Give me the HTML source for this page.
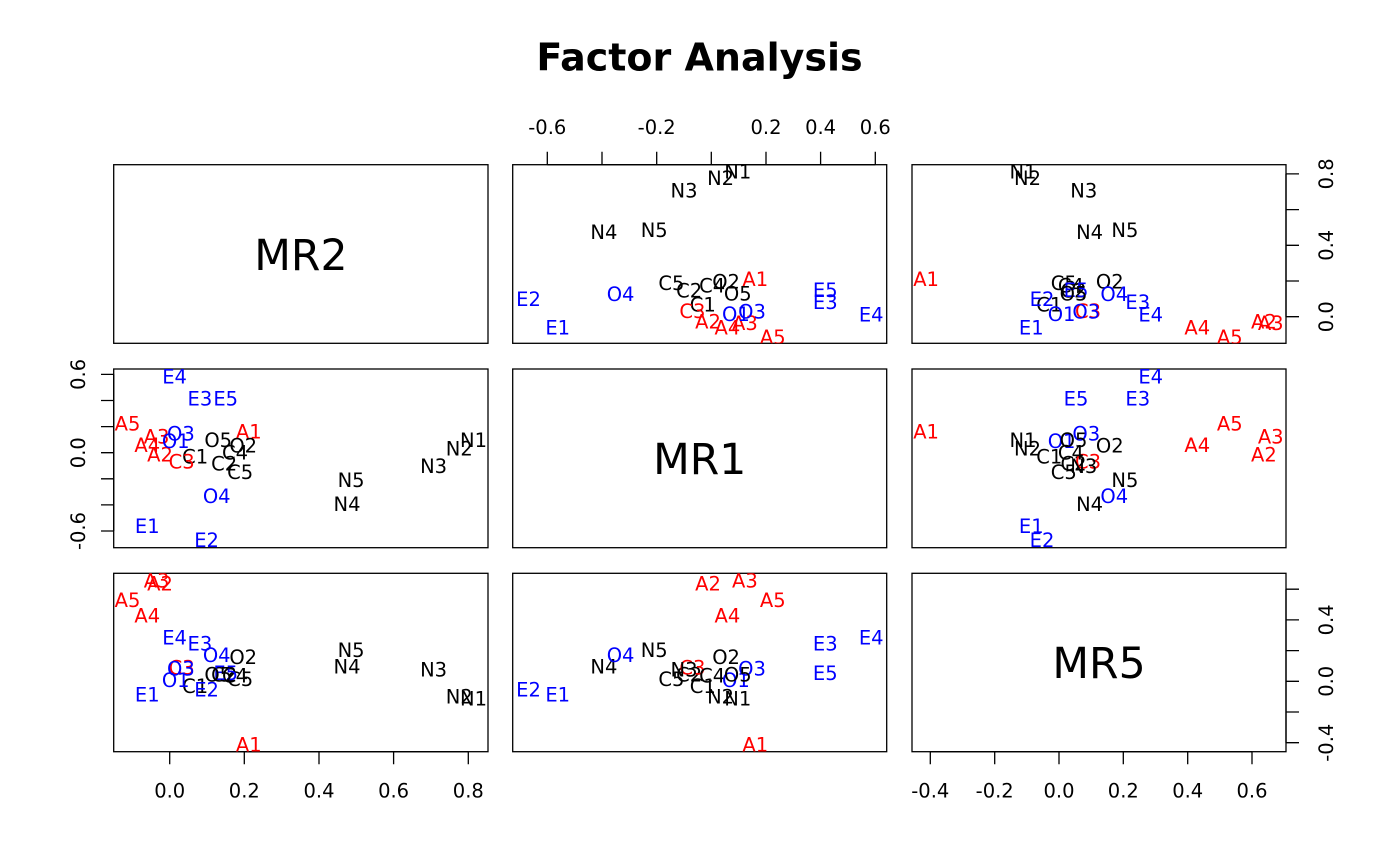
<!DOCTYPE html>
<html><head><meta charset="utf-8"><style>
html,body{margin:0;padding:0;background:#fff}
svg{display:block}
text{font-family:"DejaVu Sans","Liberation Sans",sans-serif}
.p text{font-size:19.5px;text-anchor:middle}
.r{fill:#ff0000}.b{fill:#0000ff}
.ax text{font-size:19.5px;text-anchor:middle}
</style></head><body>
<svg width="1400" height="866" viewBox="0 0 1400 866" xmlns="http://www.w3.org/2000/svg">
<defs>
<clipPath id="c12"><rect x="512.7" y="164.7" width="374" height="178.6"/></clipPath>
<clipPath id="c13"><rect x="912" y="164.7" width="374" height="178.6"/></clipPath>
<clipPath id="c21"><rect x="113.7" y="369" width="374.3" height="178.7"/></clipPath>
<clipPath id="c23"><rect x="912" y="369" width="374" height="178.7"/></clipPath>
<clipPath id="c31"><rect x="113.7" y="573.3" width="374.3" height="178.4"/></clipPath>
<clipPath id="c32"><rect x="512.7" y="573.3" width="374" height="178.4"/></clipPath>
</defs>
<rect width="1400" height="866" fill="#fff"/>
<text x="699.5" y="70.7" font-size="38" font-weight="bold" text-anchor="middle">Factor Analysis</text>

<g fill="none" stroke="#000" stroke-width="1.3">
<rect x="113.7" y="164.7" width="374.3" height="178.6"/>
<rect x="512.7" y="164.7" width="374" height="178.6"/>
<rect x="912" y="164.7" width="374" height="178.6"/>
<rect x="113.7" y="369" width="374.3" height="178.7"/>
<rect x="512.7" y="369" width="374" height="178.7"/>
<rect x="912" y="369" width="374" height="178.7"/>
<rect x="113.7" y="573.3" width="374.3" height="178.4"/>
<rect x="512.7" y="573.3" width="374" height="178.4"/>
<rect x="912" y="573.3" width="374" height="178.4"/>
<!-- top axis col2 -->
<path d="M547.3 164.7V151.7M602 164.7V151.7M656.7 164.7V151.7M711.3 164.7V151.7M766 164.7V151.7M820.6 164.7V151.7M875.3 164.7V151.7M547.3 164.7H875.3"/>
<!-- bottom axis col1 -->
<path d="M169.7 751.7V764.3M244.3 751.7V764.3M319 751.7V764.3M393.6 751.7V764.3M468.3 751.7V764.3M169.7 751.7H468.3"/>
<!-- bottom axis col3 -->
<path d="M930.3 751.7V764.3M994.7 751.7V764.3M1059 751.7V764.3M1123.3 751.7V764.3M1187.7 751.7V764.3M1252 751.7V764.3M930.3 751.7H1252"/>
<!-- right axis row1 -->
<path d="M1286 316.7H1299M1286 281H1299M1286 245.3H1299M1286 209.6H1299M1286 173.9H1299M1286 173.9V316.7"/>
<!-- left axis row2 -->
<path d="M113.7 374.4H101M113.7 400.5H101M113.7 426.6H101M113.7 452.7H101M113.7 478.8H101M113.7 504.9H101M113.7 531H101M113.7 374.4V531"/>
<!-- right axis row3 -->
<path d="M1286 589.2H1299M1286 619.9H1299M1286 650.6H1299M1286 681.3H1299M1286 712H1299M1286 742.7H1299M1286 589.2V742.7"/>
</g>

<g class="ax">
<text x="547.3" y="134">-0.6</text>
<text x="656.7" y="134">-0.2</text>
<text x="766" y="134">0.2</text>
<text x="820.6" y="134">0.4</text>
<text x="875.3" y="134">0.6</text>
<text x="169.7" y="797.7">0.0</text>
<text x="244.3" y="797.7">0.2</text>
<text x="319" y="797.7">0.4</text>
<text x="393.6" y="797.7">0.6</text>
<text x="468.3" y="797.7">0.8</text>
<text x="930.3" y="797.7">-0.4</text>
<text x="994.7" y="797.7">-0.2</text>
<text x="1059" y="797.7">0.0</text>
<text x="1123.3" y="797.7">0.2</text>
<text x="1187.7" y="797.7">0.4</text>
<text x="1252" y="797.7">0.6</text>
<text transform="translate(1333,316.7) rotate(-90)">0.0</text>
<text transform="translate(1333,245.3) rotate(-90)">0.4</text>
<text transform="translate(1333,173.9) rotate(-90)">0.8</text>
<text transform="translate(85,374.4) rotate(-90)">0.6</text>
<text transform="translate(85,452.7) rotate(-90)">0.0</text>
<text transform="translate(85,531) rotate(-90)">-0.6</text>
<text transform="translate(1333,619.9) rotate(-90)">0.4</text>
<text transform="translate(1333,681.3) rotate(-90)">0.0</text>
<text transform="translate(1333,742.7) rotate(-90)">-0.4</text>
</g>

<g font-size="42.5" text-anchor="middle">
<text x="300.9" y="270">MR2</text>
<text x="699.7" y="473.8">MR1</text>
<text x="1099" y="678">MR5</text>
</g>

<!-- panel 1,2 -->
<g class="p" clip-path="url(#c12)">
<text class="r" x="755.3" y="285.9">A1</text>
<text class="r" x="708.0" y="328.3">A2</text>
<text class="r" x="744.9" y="329.9">A3</text>
<text class="r" x="727.4" y="334.4">A4</text>
<text class="r" x="772.8" y="343.9">A5</text>
<text x="702.8" y="311.6">C1</text>
<text x="689.2" y="297.6">C2</text>
<text class="r" x="692.4" y="318.0">C3</text>
<text x="712.1" y="292.5">C4</text>
<text x="671.4" y="290.0">C5</text>
<text class="b" x="557.7" y="334.4">E1</text>
<text class="b" x="528.5" y="306.0">E2</text>
<text class="b" x="825.3" y="309.2">E3</text>
<text class="b" x="871.2" y="321.4">E4</text>
<text class="b" x="825.3" y="296.9">E5</text>
<text x="737.8" y="178.4">N1</text>
<text x="720.6" y="185.2">N2</text>
<text x="684.0" y="197.5">N3</text>
<text x="603.9" y="238.9">N4</text>
<text x="654.2" y="236.9">N5</text>
<text class="b" x="735.9" y="320.8">O1</text>
<text x="726.1" y="288.5">O2</text>
<text class="b" x="752.0" y="318.3">O3</text>
<text class="b" x="620.6" y="301.2">O4</text>
<text x="737.8" y="300.5">O5</text>
</g>

<!-- panel 1,3 -->
<g class="p" clip-path="url(#c13)">
<text class="r" x="926.1" y="285.9">A1</text>
<text class="r" x="1263.9" y="328.3">A2</text>
<text class="r" x="1270.7" y="329.9">A3</text>
<text class="r" x="1197.3" y="334.4">A4</text>
<text class="r" x="1229.8" y="343.9">A5</text>
<text x="1049.3" y="311.6">C1</text>
<text x="1073.5" y="297.6">C2</text>
<text class="r" x="1088.0" y="318.0">C3</text>
<text x="1070.9" y="292.5">C4</text>
<text x="1063.8" y="290.0">C5</text>
<text class="b" x="1031.3" y="334.4">E1</text>
<text class="b" x="1042.0" y="306.0">E2</text>
<text class="b" x="1137.8" y="309.2">E3</text>
<text class="b" x="1150.7" y="321.4">E4</text>
<text class="b" x="1076.0" y="296.9">E5</text>
<text x="1023.0" y="178.4">N1</text>
<text x="1027.5" y="185.2">N2</text>
<text x="1083.8" y="197.5">N3</text>
<text x="1089.6" y="238.9">N4</text>
<text x="1124.9" y="236.9">N5</text>
<text class="b" x="1061.6" y="320.8">O1</text>
<text x="1109.8" y="288.5">O2</text>
<text class="b" x="1086.3" y="318.3">O3</text>
<text class="b" x="1114.3" y="301.2">O4</text>
<text x="1073.5" y="300.5">O5</text>
</g>

<!-- panel 2,1 -->
<g class="p" clip-path="url(#c21)">
<text class="r" x="248.8" y="438.7">A1</text>
<text class="r" x="160.0" y="461.3">A2</text>
<text class="r" x="156.6" y="443.6">A3</text>
<text class="r" x="147.3" y="452.0">A4</text>
<text class="r" x="127.5" y="430.3">A5</text>
<text x="195.1" y="463.7">C1</text>
<text x="224.2" y="470.3">C2</text>
<text class="r" x="181.6" y="468.7">C3</text>
<text x="235.0" y="459.3">C4</text>
<text x="240.2" y="478.8">C5</text>
<text class="b" x="147.3" y="533.0">E1</text>
<text class="b" x="206.6" y="547.0">E2</text>
<text class="b" x="199.9" y="405.3">E3</text>
<text class="b" x="174.6" y="383.4">E4</text>
<text class="b" x="225.7" y="405.3">E5</text>
<text x="473.5" y="447.0">N1</text>
<text x="459.3" y="455.3">N2</text>
<text x="433.6" y="472.8">N3</text>
<text x="347.0" y="511.0">N4</text>
<text x="351.1" y="487.0">N5</text>
<text class="b" x="175.7" y="448.0">O1</text>
<text x="243.2" y="452.7">O2</text>
<text class="b" x="180.9" y="440.3">O3</text>
<text class="b" x="216.7" y="503.0">O4</text>
<text x="218.2" y="447.0">O5</text>
</g>

<!-- panel 2,3 -->
<g class="p" clip-path="url(#c23)">
<text class="r" x="926.1" y="438.7">A1</text>
<text class="r" x="1263.9" y="461.3">A2</text>
<text class="r" x="1270.7" y="443.6">A3</text>
<text class="r" x="1197.3" y="452.0">A4</text>
<text class="r" x="1229.8" y="430.3">A5</text>
<text x="1049.3" y="463.7">C1</text>
<text x="1073.5" y="470.3">C2</text>
<text class="r" x="1088.0" y="468.7">C3</text>
<text x="1070.9" y="459.3">C4</text>
<text x="1063.8" y="478.8">C5</text>
<text class="b" x="1031.3" y="533.0">E1</text>
<text class="b" x="1042.0" y="547.0">E2</text>
<text class="b" x="1137.8" y="405.3">E3</text>
<text class="b" x="1150.7" y="383.4">E4</text>
<text class="b" x="1076.0" y="405.3">E5</text>
<text x="1023.0" y="447.0">N1</text>
<text x="1027.5" y="455.3">N2</text>
<text x="1083.8" y="472.8">N3</text>
<text x="1089.6" y="511.0">N4</text>
<text x="1124.9" y="487.0">N5</text>
<text class="b" x="1061.6" y="448.0">O1</text>
<text x="1109.8" y="452.7">O2</text>
<text class="b" x="1086.3" y="440.3">O3</text>
<text class="b" x="1114.3" y="503.0">O4</text>
<text x="1073.5" y="447.0">O5</text>
</g>

<!-- panel 3,1 -->
<g class="p" clip-path="url(#c31)">
<text class="r" x="248.8" y="751.7">A1</text>
<text class="r" x="160.0" y="590.5">A2</text>
<text class="r" x="156.6" y="587.3">A3</text>
<text class="r" x="147.3" y="622.3">A4</text>
<text class="r" x="127.5" y="606.8">A5</text>
<text x="195.1" y="692.9">C1</text>
<text x="224.2" y="681.4">C2</text>
<text class="r" x="181.6" y="674.5">C3</text>
<text x="235.0" y="682.6">C4</text>
<text x="240.2" y="686.0">C5</text>
<text class="b" x="147.3" y="701.5">E1</text>
<text class="b" x="206.6" y="696.4">E2</text>
<text class="b" x="199.9" y="650.7">E3</text>
<text class="b" x="174.6" y="644.6">E4</text>
<text class="b" x="225.7" y="680.2">E5</text>
<text x="473.5" y="705.5">N1</text>
<text x="459.3" y="703.3">N2</text>
<text x="433.6" y="676.5">N3</text>
<text x="347.0" y="673.7">N4</text>
<text x="351.1" y="656.8">N5</text>
<text class="b" x="175.7" y="687.1">O1</text>
<text x="243.2" y="664.0">O2</text>
<text class="b" x="180.9" y="675.3">O3</text>
<text class="b" x="216.7" y="661.9">O4</text>
<text x="218.2" y="681.4">O5</text>
</g>

<!-- panel 3,2 -->
<g class="p" clip-path="url(#c32)">
<text class="r" x="755.3" y="751.7">A1</text>
<text class="r" x="708.0" y="590.5">A2</text>
<text class="r" x="744.9" y="587.3">A3</text>
<text class="r" x="727.4" y="622.3">A4</text>
<text class="r" x="772.8" y="606.8">A5</text>
<text x="702.8" y="692.9">C1</text>
<text x="689.2" y="681.4">C2</text>
<text class="r" x="692.4" y="674.5">C3</text>
<text x="712.1" y="682.6">C4</text>
<text x="671.4" y="686.0">C5</text>
<text class="b" x="557.7" y="701.5">E1</text>
<text class="b" x="528.5" y="696.4">E2</text>
<text class="b" x="825.3" y="650.7">E3</text>
<text class="b" x="871.2" y="644.6">E4</text>
<text class="b" x="825.3" y="680.2">E5</text>
<text x="737.8" y="705.5">N1</text>
<text x="720.6" y="703.3">N2</text>
<text x="684.0" y="676.5">N3</text>
<text x="603.9" y="673.7">N4</text>
<text x="654.2" y="656.8">N5</text>
<text class="b" x="735.9" y="687.1">O1</text>
<text x="726.1" y="664.0">O2</text>
<text class="b" x="752.0" y="675.3">O3</text>
<text class="b" x="620.6" y="661.9">O4</text>
<text x="737.8" y="681.4">O5</text>
</g>
</svg>
</body></html>
